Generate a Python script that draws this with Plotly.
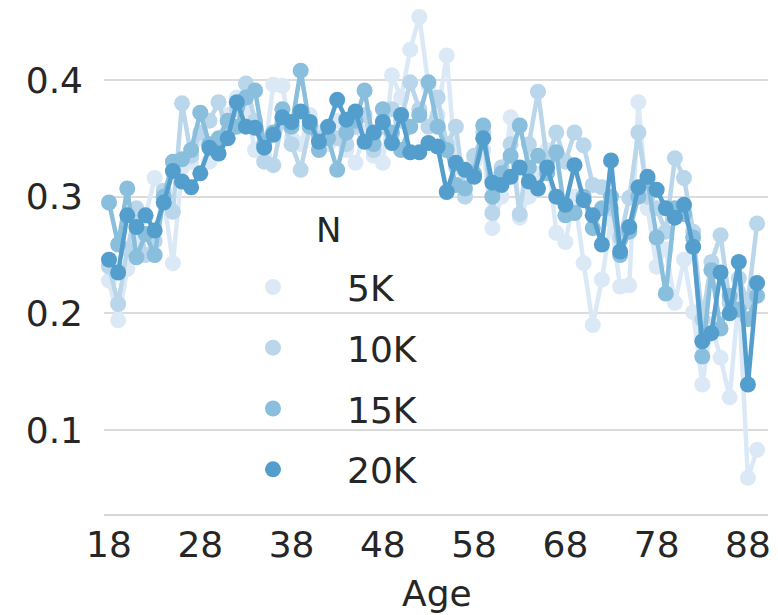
import plotly.graph_objects as go

ages = [18, 19, 20, 21, 22, 23, 24, 25, 26, 27, 28, 29, 30, 31, 32, 33, 34, 35,
        36, 37, 38, 39, 40, 41, 42, 43, 44, 45, 46, 47, 48, 49, 50, 51, 52, 53,
        54, 55, 56, 57, 58, 59, 60, 61, 62, 63, 64, 65, 66, 67, 68, 69, 70, 71,
        72, 73, 74, 75, 76, 77, 78, 79, 80, 81, 82, 83, 84, 85, 86, 87, 88, 89]

n_5k = [0.228, 0.194, 0.238, 0.262, 0.283, 0.316, 0.298, 0.243, 0.325, 0.330,
        0.350, 0.330, 0.345, 0.370, 0.385, 0.375, 0.340, 0.335, 0.396, 0.395,
        0.350, 0.345, 0.370, 0.355, 0.345, 0.365, 0.340, 0.329, 0.355, 0.335,
        0.329, 0.404, 0.385, 0.426, 0.454, 0.395, 0.370, 0.421, 0.325, 0.315,
        0.330, 0.340, 0.273, 0.300, 0.368, 0.282, 0.300, 0.320, 0.340, 0.269,
        0.261, 0.300, 0.243, 0.190, 0.229, 0.280, 0.223, 0.224, 0.381, 0.290,
        0.240, 0.255, 0.209, 0.246, 0.201, 0.139, 0.190, 0.162, 0.128, 0.215,
        0.059, 0.083]

n_10k = [0.240, 0.208, 0.255, 0.290, 0.250, 0.262, 0.305, 0.287, 0.380, 0.335,
         0.355, 0.365, 0.381, 0.355, 0.375, 0.397, 0.365, 0.330, 0.327, 0.365,
         0.345, 0.323, 0.360, 0.350, 0.355, 0.350, 0.345, 0.360, 0.370, 0.340,
         0.360, 0.375, 0.365, 0.398, 0.375, 0.360, 0.385, 0.345, 0.360, 0.300,
         0.335, 0.355, 0.286, 0.325, 0.345, 0.285, 0.345, 0.390, 0.330, 0.355,
         0.330, 0.355, 0.344, 0.310, 0.308, 0.290, 0.265, 0.299, 0.355, 0.300,
         0.290, 0.270, 0.333, 0.316, 0.270, 0.195, 0.244, 0.267, 0.209, 0.230,
         0.210, 0.277]

n_15k = [0.295, 0.259, 0.307, 0.248, 0.268, 0.250, 0.300, 0.330, 0.332, 0.340,
         0.372, 0.345, 0.350, 0.365, 0.360, 0.385, 0.391, 0.345, 0.355, 0.375,
         0.360, 0.408, 0.360, 0.340, 0.350, 0.323, 0.355, 0.365, 0.391, 0.345,
         0.375, 0.355, 0.340, 0.360, 0.370, 0.398, 0.360, 0.340, 0.310, 0.307,
         0.320, 0.361, 0.300, 0.320, 0.335, 0.361, 0.325, 0.335, 0.320, 0.338,
         0.284, 0.286, 0.300, 0.273, 0.290, 0.300, 0.250, 0.270, 0.300, 0.315,
         0.265, 0.217, 0.290, 0.285, 0.265, 0.163, 0.237, 0.187, 0.215, 0.203,
         0.195, 0.215]

n_20k = [0.246, 0.235, 0.284, 0.274, 0.284, 0.271, 0.295, 0.322, 0.313, 0.308,
         0.320, 0.342, 0.337, 0.350, 0.381, 0.360, 0.359, 0.342, 0.353, 0.368,
         0.364, 0.373, 0.364, 0.347, 0.360, 0.383, 0.366, 0.373, 0.347, 0.355,
         0.364, 0.346, 0.370, 0.338, 0.338, 0.346, 0.343, 0.304, 0.329, 0.323,
         0.317, 0.350, 0.312, 0.310, 0.317, 0.325, 0.313, 0.307, 0.325, 0.300,
         0.293, 0.327, 0.297, 0.284, 0.259, 0.331, 0.253, 0.274, 0.308, 0.317,
         0.306, 0.290, 0.282, 0.293, 0.257, 0.176, 0.183, 0.235, 0.200, 0.244,
         0.139, 0.226]

series_names = ["5K", "10K", "15K", "20K"]
series_values = [n_5k, n_10k, n_15k, n_20k]
colors = ["#dbe9f6", "#bad6eb", "#89bedc", "#539ecd"]
x_ticks = [18, 28, 38, 48, 58, 68, 78, 88]
y_ticks = [0.1, 0.2, 0.3, 0.4]

FONT = "DejaVu Sans"
TXT = "#262626"

# the page body adds an 8px offset, so the figure is 8px smaller than the window
W, H = 770, 607
L, R, T, B = 96, 10, 0, 101
pw, ph = W - L - R, H - T - B

fig = go.Figure()
for name, vals, col in zip(series_names, series_values, colors):
    fig.add_trace(go.Scatter(
        x=ages, y=vals, mode="lines+markers", name=name,
        line=dict(color=col, width=4.5),
        marker=dict(color=col, size=16),
        showlegend=False, cliponaxis=False,
    ))
# legend entries (marker only, like seaborn's pointplot legend)
for name, col in zip(series_names, colors):
    fig.add_trace(go.Scatter(
        x=[None], y=[None], mode="markers", name=name,
        marker=dict(color=col, size=18), legendgroup=name,
    ))

# legend position (figure pixels), converted to paper coords
leg_left_px = 95
leg_top_px = 249

fig.update_layout(
    width=W, height=H,
    margin=dict(l=L, r=R, t=T, b=B),
    paper_bgcolor="white", plot_bgcolor="white",
    font=dict(family=FONT, size=36, color=TXT),
    legend=dict(
        x=leg_left_px / pw, y=1 - leg_top_px / ph, xanchor="left", yanchor="top",
        bgcolor="rgba(0,0,0,0)", borderwidth=0,
        font=dict(family=FONT, size=36, color=TXT),
        itemwidth=138, tracegroupgap=11,
    ),
    annotations=[
        dict(text="N", x=(328 - 8 - L) / pw, y=1 - (230 - 8 - T) / ph,
             xref="paper", yref="paper", showarrow=False,
             font=dict(family=FONT, size=34, color=TXT)),
        dict(text="Age", x=(437 - 8 - L) / pw, y=1 - (593 - 8 - T) / ph,
             xref="paper", yref="paper", showarrow=False, yanchor="middle",
             font=dict(family=FONT, size=36, color=TXT)),
    ],
)

fig.update_xaxes(
    range=[17.45, 90.2], tickvals=x_ticks, ticktext=[str(t) for t in x_ticks],
    showgrid=False, zeroline=False, showline=True, linecolor="#d6d6d6", linewidth=2,
    ticks="", ticklabelstandoff=-2,
    tickfont=dict(family=FONT, size=36, color=TXT),
)
fig.update_yaxes(
    range=[0.028, 0.4617], tickvals=y_ticks, ticktext=["0.1", "0.2", "0.3", "0.4"],
    showgrid=True, gridcolor="#dcdcdc", gridwidth=2, zeroline=False, showline=False,
    ticks="", ticklabelstandoff=20,
    tickfont=dict(family=FONT, size=36, color=TXT),
)

fig.write_html("out.html")
